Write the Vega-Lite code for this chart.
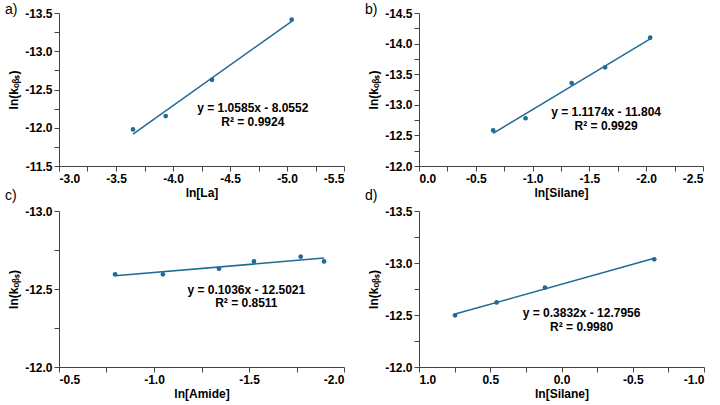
{
  "$schema": "https://vega.github.io/schema/vega-lite/v6.json",
  "background": "white",
  "padding": {"left": 5, "top": 3, "right": 2, "bottom": 6},
  "columns": 2,
  "spacing": {"row": 45, "column": 75},
  "bounds": "flush",
  "config": {
    "view": {"stroke": null},
    "font": "Liberation Sans",
    "axis": {
      "grid": false,
      "domainColor": "#444",
      "tickColor": "#444",
      "tickSize": 5,
      "labelFont": "Liberation Sans",
      "labelFontWeight": "bold",
      "labelFontSize": 12,
      "labelColor": "#000",
      "titleFont": "Liberation Sans",
      "titleFontWeight": "bold",
      "titleFontSize": 12,
      "titleColor": "#000",
      "labelExpr": "abs(datum.value*2 - round(datum.value*2)) < 0.001 ? replace(format(datum.value, '.1f'), '−', '-') : ''"
    },
    "axisX": {"titlePadding": 3, "labelPadding": 2},
    "axisY": {"titlePadding": 4, "labelPadding": 2},
    "title": {"anchor": "start", "frame": "group", "font": "Liberation Sans", "fontSize": 14, "fontWeight": "normal", "color": "#000", "dx": -54}
  },
  "datasets": {
    "pa": [
      {"x": -3.649, "y": -11.978},
      {"x": -3.936, "y": -12.152},
      {"x": -4.342, "y": -12.626},
      {"x": -5.041, "y": -13.413}
    ],
    "ta": [
      {"x": -3.649, "y": -11.918},
      {"x": -5.041, "y": -13.391}
    ],
    "la": [
      {"x": -4.70, "y": -12.252, "t": "y = 1.0585x - 8.0552"},
      {"x": -4.70, "y": -12.078, "t": "R² = 0.9924"}
    ],
    "pb": [
      {"x": -0.653, "y": -12.581},
      {"x": -0.938, "y": -12.780},
      {"x": -1.344, "y": -13.355},
      {"x": -1.638, "y": -13.613},
      {"x": -2.035, "y": -14.097}
    ],
    "tb": [
      {"x": -0.653, "y": -12.534},
      {"x": -2.035, "y": -14.078}
    ],
    "lb": [
      {"x": -1.647, "y": -12.887, "t": "y = 1.1174x - 11.804"},
      {"x": -1.647, "y": -12.656, "t": "R² = 0.9929"}
    ],
    "pc": [
      {"x": -0.795, "y": -12.594},
      {"x": -1.047, "y": -12.594},
      {"x": -1.342, "y": -12.630},
      {"x": -1.526, "y": -12.677},
      {"x": -1.772, "y": -12.707},
      {"x": -1.895, "y": -12.677}
    ],
    "tc": [
      {"x": -0.795, "y": -12.5845},
      {"x": -1.895, "y": -12.698}
    ],
    "lc": [
      {"x": -1.486, "y": -12.494, "t": "y = 0.1036x - 12.5021"},
      {"x": -1.486, "y": -12.408, "t": "R² = 0.8511"}
    ],
    "pd": [
      {"x": 0.747, "y": -12.497},
      {"x": 0.455, "y": -12.621},
      {"x": 0.116, "y": -12.764},
      {"x": -0.651, "y": -13.035}
    ],
    "td": [
      {"x": 0.747, "y": -12.509},
      {"x": -0.651, "y": -13.045}
    ],
    "ld": [
      {"x": -0.141, "y": -12.519, "t": "y = 0.3832x - 12.7956"},
      {"x": -0.141, "y": -12.385, "t": "R² = 0.9980"}
    ]
  },
  "concat": [
    {
      "title": {"text": "a)", "offset": -10},
      "width": 285, "height": 153,
      "encoding": {
        "x": {"field": "x", "type": "quantitative", "title": "ln[La]",
          "scale": {"domain": [-5.5, -3.0], "reverse": true, "nice": false, "zero": false},
          "axis": {"values": [-3.0, -3.25, -3.5, -3.75, -4.0, -4.25, -4.5, -4.75, -5.0, -5.25, -5.5]}},
        "y": {"field": "y", "type": "quantitative", "title": "ln(kₒᵦₛ)",
          "scale": {"domain": [-13.5, -11.5], "reverse": true, "nice": false, "zero": false},
          "axis": {"values": [-13.5, -13.25, -13.0, -12.75, -12.5, -12.25, -12.0, -11.75, -11.5]}}
      },
      "layer": [
        {"data": {"name": "ta"}, "mark": {"type": "line", "color": "#1f6b94", "strokeWidth": 1.5}},
        {"data": {"name": "pa"}, "mark": {"type": "circle", "color": "#1f6b94", "opacity": 1, "size": 22}},
        {"data": {"name": "la"}, "mark": {"type": "text", "fontWeight": "bold", "fontSize": 12, "font": "Liberation Sans", "color": "#000"}, "encoding": {"text": {"field": "t"}}}
      ]
    },
    {
      "title": {"text": "b)", "offset": -10},
      "width": 284, "height": 153,
      "encoding": {
        "x": {"field": "x", "type": "quantitative", "title": "ln[Silane]",
          "scale": {"domain": [-2.5, 0.0], "reverse": true, "nice": false, "zero": false},
          "axis": {"values": [0.0, -0.25, -0.5, -0.75, -1.0, -1.25, -1.5, -1.75, -2.0, -2.25, -2.5]}},
        "y": {"field": "y", "type": "quantitative", "title": "ln(kₒᵦₛ)",
          "scale": {"domain": [-14.5, -12.0], "reverse": true, "nice": false, "zero": false},
          "axis": {"values": [-14.5, -14.25, -14.0, -13.75, -13.5, -13.25, -13.0, -12.75, -12.5, -12.25, -12.0]}}
      },
      "layer": [
        {"data": {"name": "tb"}, "mark": {"type": "line", "color": "#1f6b94", "strokeWidth": 1.5}},
        {"data": {"name": "pb"}, "mark": {"type": "circle", "color": "#1f6b94", "opacity": 1, "size": 22}},
        {"data": {"name": "lb"}, "mark": {"type": "text", "fontWeight": "bold", "fontSize": 12, "font": "Liberation Sans", "color": "#000"}, "encoding": {"text": {"field": "t"}}}
      ]
    },
    {
      "title": {"text": "c)", "offset": 2},
      "width": 285, "height": 156,
      "encoding": {
        "x": {"field": "x", "type": "quantitative", "title": "ln[Amide]",
          "scale": {"domain": [-2.0, -0.5], "reverse": true, "nice": false, "zero": false},
          "axis": {"values": [-0.5, -0.75, -1.0, -1.25, -1.5, -1.75, -2.0]}},
        "y": {"field": "y", "type": "quantitative", "title": "ln(kₒᵦₛ)",
          "scale": {"domain": [-13.0, -12.0], "reverse": true, "nice": false, "zero": false},
          "axis": {"values": [-13.0, -12.75, -12.5, -12.25, -12.0]}}
      },
      "layer": [
        {"data": {"name": "tc"}, "mark": {"type": "line", "color": "#1f6b94", "strokeWidth": 1.5}},
        {"data": {"name": "pc"}, "mark": {"type": "circle", "color": "#1f6b94", "opacity": 1, "size": 22}},
        {"data": {"name": "lc"}, "mark": {"type": "text", "fontWeight": "bold", "fontSize": 12, "font": "Liberation Sans", "color": "#000"}, "encoding": {"text": {"field": "t"}}}
      ]
    },
    {
      "title": {"text": "d)", "offset": 2},
      "width": 285, "height": 156,
      "encoding": {
        "x": {"field": "x", "type": "quantitative", "title": "ln[Silane]",
          "scale": {"domain": [-1.0, 1.0], "reverse": true, "nice": false, "zero": false},
          "axis": {"values": [1.0, 0.75, 0.5, 0.25, 0.0, -0.25, -0.5, -0.75, -1.0]}},
        "y": {"field": "y", "type": "quantitative", "title": "ln(kₒᵦₛ)",
          "scale": {"domain": [-13.5, -12.0], "reverse": true, "nice": false, "zero": false},
          "axis": {"values": [-13.5, -13.25, -13.0, -12.75, -12.5, -12.25, -12.0]}}
      },
      "layer": [
        {"data": {"name": "td"}, "mark": {"type": "line", "color": "#1f6b94", "strokeWidth": 1.5}},
        {"data": {"name": "pd"}, "mark": {"type": "circle", "color": "#1f6b94", "opacity": 1, "size": 22}},
        {"data": {"name": "ld"}, "mark": {"type": "text", "fontWeight": "bold", "fontSize": 12, "font": "Liberation Sans", "color": "#000"}, "encoding": {"text": {"field": "t"}}}
      ]
    }
  ]
}
